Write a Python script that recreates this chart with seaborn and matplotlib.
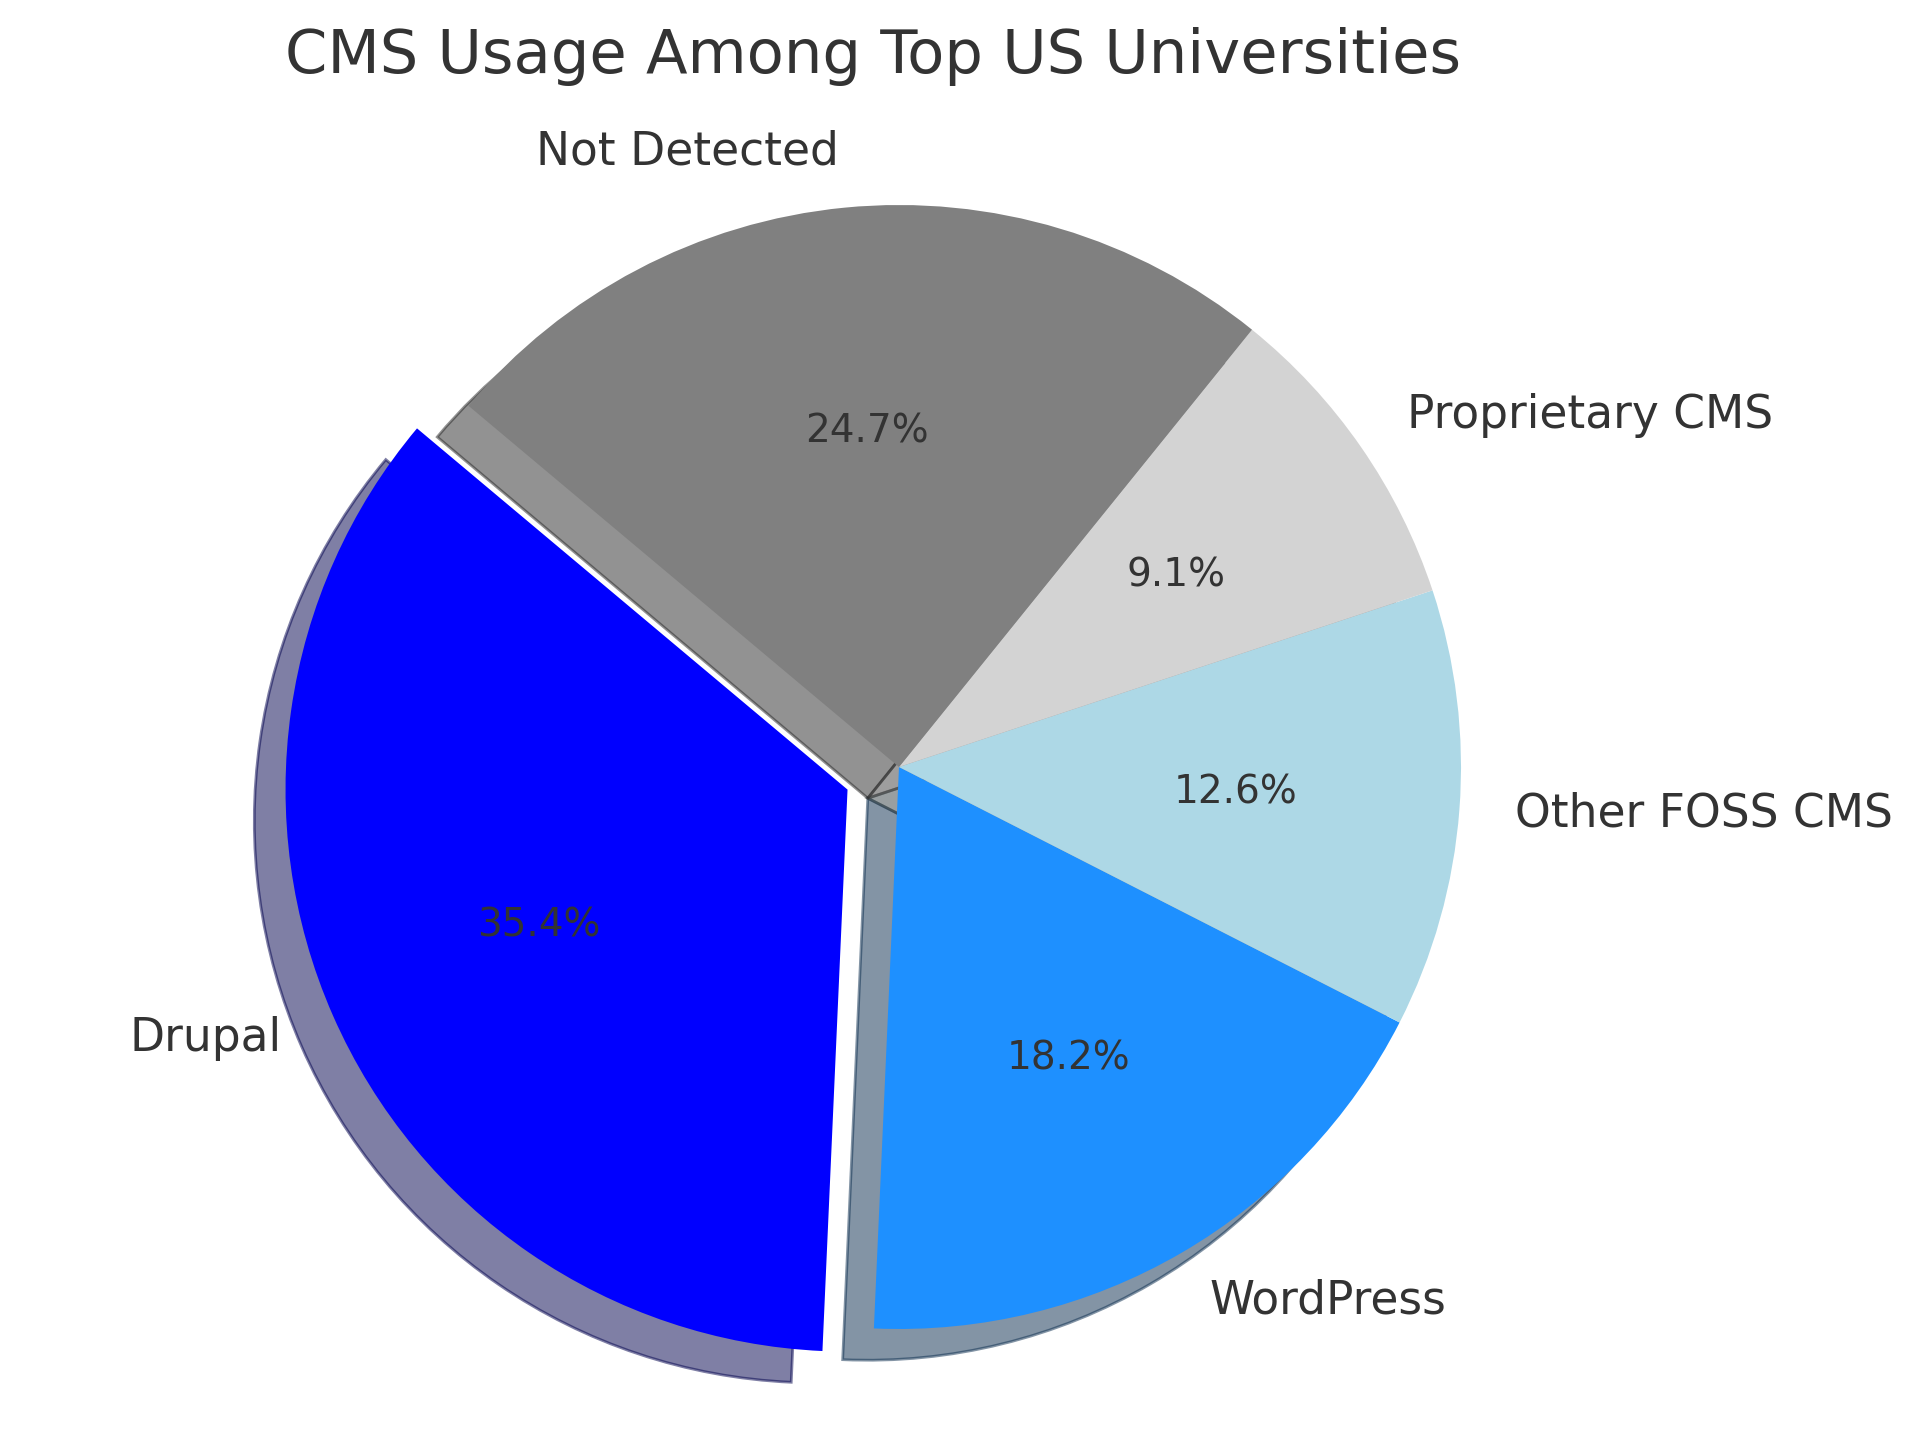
import matplotlib
matplotlib.use('Agg')
import matplotlib.pyplot as plt
import seaborn as sns

# CMS share among top US universities (percent)
labels = ['Drupal', 'WordPress', 'Other FOSS CMS', 'Proprietary CMS', 'Not Detected']
shares = [35.4, 18.2, 12.6, 9.1, 24.7]
colors = ['blue', 'dodgerblue', 'lightblue', 'lightgray', 'gray']
explode = [0.1, 0, 0, 0, 0]

sns.set_style('white')
# set after set_style, which resets these
plt.rcParams['font.family'] = ['DejaVu Sans']
plt.rcParams['text.color'] = '#333333'
plt.rcParams['patch.force_edgecolor'] = False

fig = plt.figure(figsize=(9.6, 7.185), dpi=200)
ax = fig.add_axes([0, 0, 1, 1])

wedges, texts, autotexts = ax.pie(
    shares,
    labels=labels,
    colors=sns.color_palette(colors),
    explode=explode,
    autopct='%1.1f%%',
    shadow=True,
    startangle=140,
    textprops={'fontsize': 16.4},
)
for t in autotexts:
    t.set_fontsize(14)

# place the pie: radius 562px, centre at (899, 767) px from top-left
ax.set_xlim(-1.5996, 1.8167)
ax.set_ylim(-1.1922, 1.3648)
ax.set_aspect('auto')
ax.axis('off')

fig.text(873 / 1920, 1 - 73 / 1437, 'CMS Usage Among Top US Universities',
         ha='center', va='baseline', fontsize=21.9, color='#333333')

fig.savefig('out.png', dpi=200)
